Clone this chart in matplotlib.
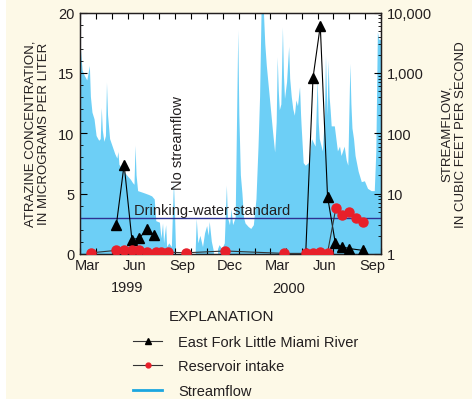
import numpy as np
import pandas as pd
import matplotlib
matplotlib.use("Agg")
import matplotlib.pyplot as plt
import matplotlib.dates as mdates
from matplotlib.lines import Line2D
from matplotlib.patches import Rectangle
from matplotlib.ticker import MultipleLocator, LogLocator, FuncFormatter, NullFormatter

plt.rcParams['font.family'] = ['Liberation Sans', 'DejaVu Sans']

# atrazine, East Fork Little Miami River (micrograms per liter)
river_dates_1999 = ['1999-05-10', '1999-05-25', '1999-06-09', '1999-06-23', '1999-07-08', '1999-07-21']
river_1999 = [2.4, 7.4, 1.2, 1.3, 2.05, 1.6]
river_dates_2000 = ['2000-05-09', '2000-05-23', '2000-06-06', '2000-06-20', '2000-07-05',
                    '2000-07-17', '2000-08-01', '2000-08-27']
river_2000 = [0.1, 14.6, 18.9, 4.75, 0.9, 0.6, 0.45, 0.3]

# atrazine at the reservoir intake
res_dates = ['1999-03-23', '1999-05-10', '1999-05-25', '1999-06-09', '1999-06-23', '1999-07-08',
             '1999-07-26', '1999-08-04', '1999-08-18', '1999-09-21', '1999-12-06',
             '2000-03-28', '2000-05-09', '2000-05-23', '2000-06-06', '2000-06-20',
             '2000-07-06', '2000-07-17', '2000-08-01', '2000-08-14', '2000-08-27']
res_vals = [0.1, 0.3, 0.3, 0.3, 0.3, 0.15, 0.15, 0.15, 0.15, 0.1, 0.25,
            0.05, 0.05, 0.1, 0.2, 0.1, 3.8, 3.25, 3.45, 3.0, 2.62]

# daily streamflow, cubic feet per second (nan = no streamflow)
flow_dates = [
    '1999-03-01', '1999-03-03', '1999-03-06', '1999-03-10', '1999-03-15', '1999-03-20',
    '1999-03-22', '1999-03-25', '1999-03-29', '1999-04-02', '1999-04-07', '1999-04-10',
    '1999-04-12', '1999-04-14', '1999-04-17', '1999-04-20', '1999-04-22', '1999-04-24',
    '1999-04-28', '1999-05-03', '1999-05-08', '1999-05-12', '1999-05-14', '1999-05-16',
    '1999-05-21', '1999-05-27', '1999-06-02', '1999-06-07', '1999-06-11', '1999-06-14',
    '1999-06-16', '1999-06-18', '1999-06-21', '1999-06-28', '1999-07-05', '1999-07-12',
    '1999-07-18', '1999-07-23', '1999-07-26', '1999-08-02', '1999-08-05', '1999-08-08',
    '1999-08-10', '1999-08-14', '1999-08-16', '1999-08-20', '1999-08-25', '1999-08-29',
    '1999-08-31', '1999-09-02', '1999-09-03', '1999-10-10', '1999-10-12', '1999-10-15',
    '1999-10-19', '1999-10-24', '1999-10-28', '1999-11-01', '1999-11-04', '1999-11-06',
    '1999-11-10', '1999-11-14', '1999-11-15', '1999-11-22', '1999-11-25', '1999-11-30',
    '1999-12-05', '1999-12-09', '1999-12-11', '1999-12-15', '1999-12-18', '1999-12-21',
    '1999-12-26', '1999-12-31', '2000-01-02', '2000-01-05', '2000-01-08', '2000-01-11',
    '2000-01-14', '2000-01-20', '2000-01-25', '2000-01-30', '2000-02-04', '2000-02-08',
    '2000-02-11', '2000-02-14', '2000-02-18', '2000-02-21', '2000-02-24', '2000-03-01',
    '2000-03-07', '2000-03-11', '2000-03-14', '2000-03-16', '2000-03-18', '2000-03-20',
    '2000-03-23', '2000-03-26', '2000-03-28', '2000-03-30', '2000-04-03', '2000-04-07',
    '2000-04-09', '2000-04-12', '2000-04-15', '2000-04-18', '2000-04-21', '2000-04-24',
    '2000-04-28', '2000-04-30', '2000-05-01', '2000-05-05', '2000-05-09', '2000-05-15',
    '2000-05-21', '2000-05-28', '2000-06-01', '2000-06-03', '2000-06-05', '2000-06-11',
    '2000-06-15', '2000-06-17', '2000-06-19', '2000-06-20', '2000-06-22', '2000-06-24',
    '2000-06-26', '2000-06-28', '2000-07-04', '2000-07-10', '2000-07-14', '2000-07-17',
    '2000-07-23', '2000-07-27', '2000-07-30', '2000-08-03', '2000-08-05', '2000-08-07',
    '2000-08-10', '2000-08-13', '2000-08-19', '2000-08-25', '2000-08-31', '2000-09-06',
    '2000-09-13', '2000-09-19', '2000-09-22', '2000-09-25', '2000-09-28', '2000-10-01',
]
flow_cfs = [
    1500, 2300, 1100, 900, 750, 1300,
    400, 220, 170, 90, 75, 80,
    260, 110, 72, 90, 680, 200,
    80, 60, 45, 38, 49, 30,
    26, 22, 19, 17, 15, 14,
    62, 20, 11, 10.5, 10, 9.5,
    9, 8, 3.5, 3.3, 1.8, 3.2,
    1.5, 3.0, 1.3, 1.5, 1.3, 15.6,
    5, 1.2, np.nan, 1.2, 3.8, 1.5,
    2.0, 1.3, 2.2, 2.9, 2.0, 3.4,
    1.6, 1.1, np.nan, 1.2, 1.4, 1.2,
    1.5, 13.5, 4, 3, 5.5, 3,
    4, 5000, 200, 20, 10, 4,
    3.2, 2.8, 2.6, 3, 8, 60,
    400, 12000, 12000, 3000, 1300, 370,
    105, 48, 150, 1800, 500, 240,
    300, 5600, 900, 370, 700, 2700,
    800, 400, 250, 195, 350, 280,
    580, 200, 133, 32, 29, 32,
    80, 60, 790, 150, 80, 50,
    200, 1900, 400, 195, 1600, 400,
    240, 130, 130, 50, 60, 42,
    60, 35, 29, 1400, 300, 120,
    80, 42, 23, 15.5, 16, 12,
    11, 11, 50, 4700, 3500, 3500,
]

fs = 10.5
ink = '#231F20'

fig = plt.figure(figsize=(4.72, 4.02), dpi=100, facecolor='white')
fig.patches.append(Rectangle((6 / 472, 2 / 402), 1, 1, transform=fig.transFigure,
                             facecolor='#FDF9E7', edgecolor='none', zorder=-10))

ax = fig.add_axes([80 / 472, 1 - 255 / 402, 301 / 472, 241.5 / 402])
ax2 = ax.twinx()

# streamflow fill goes on the log axis behind the atrazine data
fd = pd.to_datetime(flow_dates)
q = np.array(flow_cfs, dtype=float)
ax2.fill_between(fd, q, 1, color='#6DCFF6', linewidth=0)
ax2.set_yscale('log')
ax2.set_ylim(1, 10000)
ax2.yaxis.set_major_locator(LogLocator(base=10, numticks=10))
ax2.yaxis.set_minor_locator(LogLocator(base=10, subs=np.arange(2, 10), numticks=10))
ax2.yaxis.set_major_formatter(FuncFormatter(lambda v, p: f'{int(v):,}'))
ax2.yaxis.set_minor_formatter(NullFormatter())
ax2.tick_params(axis='y', which='both', direction='in', labelsize=fs, pad=4, labelcolor=ink)
ax2.tick_params(axis='y', which='major', length=5)
ax2.tick_params(axis='y', which='minor', length=2.5)
ax2.set_ylabel('STREAMFLOW,\nIN CUBIC FEET PER SECOND', fontsize=9.5, color=ink,
               labelpad=7, linespacing=1.15)
ax2.patch.set_visible(True)
ax2.patch.set_facecolor('white')

ax.set_zorder(ax2.get_zorder() + 1)
ax.patch.set_visible(False)

ax.axhline(3, color='#2E3192', linewidth=1)
ax.text(pd.Timestamp('1999-06-13'), 3.1, 'Drinking-water standard', fontsize=fs,
        color=ink, va='bottom', ha='left')
ax.text(pd.Timestamp('1999-09-06'), 9.3, 'No streamflow', rotation=90, fontsize=fs,
        color=ink, va='center', ha='center')

ax.plot(pd.to_datetime(river_dates_1999), river_1999, color='black', linewidth=0.8,
        marker='^', markersize=7, zorder=3)
ax.plot(pd.to_datetime(river_dates_2000), river_2000, color='black', linewidth=0.8,
        marker='^', markersize=7, zorder=3)
ax.plot(pd.to_datetime(res_dates), res_vals, color='#333333', linewidth=0.8,
        marker='o', markersize=6.5, markerfacecolor='#E8202A', markeredgecolor='#E8202A',
        zorder=4)

ax.set_xlim(pd.Timestamp('1999-03-01'), pd.Timestamp('2000-10-01'))
ax.set_ylim(0, 20)
ax.yaxis.set_major_locator(MultipleLocator(5))
ax.yaxis.set_minor_locator(MultipleLocator(1))
ax.tick_params(axis='y', which='both', direction='in', labelsize=fs, pad=4, labelcolor=ink)
ax.tick_params(axis='y', which='major', length=5)
ax.tick_params(axis='y', which='minor', length=2.5)
ax.set_ylabel('ATRAZINE CONCENTRATION,\nIN MICROGRAMS PER LITER', fontsize=9.5,
              color=ink, labelpad=6, linespacing=1.15)

# month ticks at month starts, labels centred mid-month
ax.xaxis.set_major_locator(mdates.MonthLocator())
ax.xaxis.set_major_formatter(NullFormatter())
ax.xaxis.set_minor_locator(mdates.MonthLocator(bymonth=[3, 6, 9, 12], bymonthday=15))
ax.xaxis.set_minor_formatter(mdates.DateFormatter('%b'))
ax.tick_params(axis='x', which='major', direction='in', length=4, top=True)
ax.tick_params(axis='x', which='minor', length=0, labelsize=fs, pad=3, labelcolor=ink)

for a in (ax, ax2):
    for s in a.spines.values():
        s.set_linewidth(0.9)
        s.set_color(ink)

ax.annotate('1999', xy=(pd.Timestamp('1999-05-30'), -0.137), xycoords=('data', 'axes fraction'),
            ha='center', va='center', fontsize=fs, color=ink)
ax.annotate('2000', xy=(pd.Timestamp('2000-04-07'), -0.14), xycoords=('data', 'axes fraction'),
            ha='center', va='center', fontsize=fs, color=ink)

fig.text(221 / 472, 1 - 317 / 402, 'EXPLANATION', ha='center', va='center', fontsize=11,
         color=ink)
handles = [
    Line2D([], [], color='#333333', linewidth=0.8, marker='^', markersize=5,
           markerfacecolor='black', markeredgecolor='black'),
    Line2D([], [], color='#333333', linewidth=0.8, marker='o', markersize=3.5,
           markerfacecolor='#E8202A', markeredgecolor='#E8202A'),
    Line2D([], [], color='#1BA6E0', linewidth=2),
]
labels = ['East Fork Little Miami River', 'Reservoir intake', 'Streamflow']
fig.legend(handles, labels, loc='upper left', bbox_to_anchor=(133 / 472, 1 - 336 / 402),
           frameon=False, fontsize=fs, handlelength=2.0, handletextpad=1.1,
           labelspacing=0.72, borderpad=0, borderaxespad=0, labelcolor=ink)

fig.savefig('out.png', dpi=100, facecolor=fig.get_facecolor())
